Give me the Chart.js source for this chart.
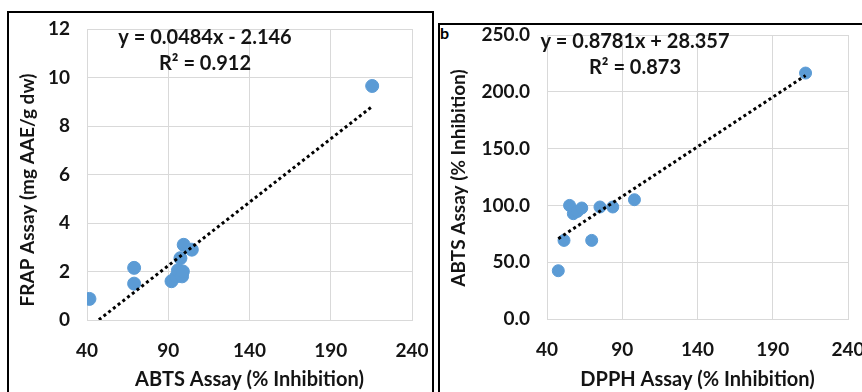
<!DOCTYPE html>
<html>
<head>
<meta charset="utf-8">
<script src="https://cdn.jsdelivr.net/npm/chart.js@4.4.1/dist/chart.umd.min.js"></script>
<style>
    body { margin: 0; background: #fff; width: 862px; height: 392px; overflow: hidden; position: relative; }
    .panel { position: absolute; border: 2px solid #000; box-sizing: border-box; }
    canvas { position: absolute; }
    #tag { position: absolute; left: 440px; top: 23px; font: bold 16px Lato, sans-serif; color: #000; }
</style>
</head>
<body>
<div class="panel" style="left:7px; top:11px; width:427px; height:420px;"></div>
<div class="panel" style="left:438px; top:23px; width:440px; height:420px;"></div>
<div id="tag">b</div>
<canvas id="graphCanvas1" width="436" height="392" style="left:0; top:0;"></canvas>
<canvas id="graphCanvas2" width="445" height="392" style="left:437px; top:0;"></canvas>
<script>
// panel a: ABTS vs FRAP
var abtsA = [41.5, 69, 69, 92, 95, 96, 97.5, 98.5, 99, 99.5, 104.5, 215.5];
var frapA = [0.87, 2.15, 1.5, 1.6, 1.8, 2.05, 2.55, 1.8, 2.0, 3.1, 2.9, 9.65];
var eqA = ['y = 0.0484x - 2.146', 'R\u00b2 = 0.912'];

// panel b: DPPH vs ABTS
var dpphB = [47.5, 51.3, 55, 57.5, 60.2, 63.1, 69.7, 75.2, 83.7, 98.1, 211.8];
var abtsB = [42.5, 69.2, 100, 92.7, 94.7, 97.7, 69.2, 98.6, 98.6, 105, 216.5];
var eqB = ['y = 0.8781x + 28.357', 'R\u00b2 = 0.873'];

var xTicks = [40, 90, 140, 190, 240];

var FONT = 'Lato, sans-serif';
var BLUE = '#5b9bd5';
var GRID = '#d9d9d9';
var TXT = '#141414';

function points(xs, ys) {
    var out = [];
    for (var i in xs) {
        out.push({x: xs[i], y: ys[i]});
    }
    return out;
}

// least squares line over the data range, like the Excel trendline
function trend(xs, ys) {
    var n = xs.length, sx = 0, sy = 0, sxx = 0, sxy = 0;
    for (var i = 0; i < n; i++) {
        sx += xs[i]; sy += ys[i];
        sxx += xs[i] * xs[i]; sxy += xs[i] * ys[i];
    }
    var b = (n * sxy - sx * sy) / (n * sxx - sx * sx);
    var a = (sy - b * sx) / n;
    var x0 = Math.min.apply(null, xs), x1 = Math.max.apply(null, xs);
    return [{x: x0, y: a + b * x0}, {x: x1, y: a + b * x1}];
}

// equation text and rotated y title
var textPlugin = {
    id: 'extraText',
    afterDraw: function (chart, args, opts) {
        var ctx = chart.ctx;
        ctx.save();
        ctx.fillStyle = TXT;
        ctx.textAlign = 'center';
        ctx.textBaseline = 'middle';
        ctx.font = 'bold 20px ' + FONT;
        ctx.fillText(opts.eq[0], opts.eqX, opts.eqY);
        ctx.fillText(opts.eq[1], opts.eqX, opts.eqY + 26);
        ctx.font = 'bold 19px ' + FONT;
        ctx.translate(opts.titleX, opts.titleY);
        ctx.rotate(-Math.PI / 2);
        ctx.fillText(opts.yTitle, 0, 0);
        ctx.restore();
    }
};

function makeChart(id, xs, ys, cfg) {
    var target = document.getElementById(id);
    return new Chart(target, {
        type: 'scatter',
        data: {
            datasets: [
                {
                    label: 'trend',
                    type: 'line',
                    data: trend(xs, ys),
                    borderColor: '#000',
                    borderWidth: 3,
                    borderDash: [3, 3],
                    pointRadius: 0,
                    fill: false,
                    order: 0
                },
                {
                    label: 'samples',
                    data: points(xs, ys),
                    backgroundColor: BLUE,
                    borderColor: BLUE,
                    pointRadius: cfg.radius,
                    pointHoverRadius: cfg.radius,
                    order: 1
                }
            ]
        },
        options: {
            responsive: false,
            animation: false,
            devicePixelRatio: 1,
            layout: { padding: cfg.padding },
            plugins: {
                legend: { display: false },
                tooltip: { enabled: false },
                extraText: cfg.text
            },
            scales: {
                x: {
                    type: 'linear',
                    min: 40, max: 240,
                    afterBuildTicks: function (s) { s.ticks = xTicks.map(function (v) { return {value: v}; }); },
                    afterFit: function (s) {
                        s.height = cfg.xHeight;
                        s.paddingLeft = 0;
                        s.paddingRight = 0;
                    },
                    grid: { color: GRID, drawTicks: false },
                    border: { color: GRID },
                    ticks: { color: TXT, padding: 19, font: { family: FONT, size: 19, weight: 'bold' } },
                    title: {
                        display: true, text: cfg.xTitle, color: TXT,
                        padding: { top: 0, bottom: 0 },
                        font: { family: FONT, size: 20, weight: 'bold' }
                    }
                },
                y: {
                    min: cfg.yMin, max: cfg.yMax,
                    ticks: {
                        stepSize: cfg.yStep, color: TXT, padding: 17,
                        font: { family: FONT, size: 19, weight: 'bold' },
                        callback: cfg.yFmt
                    },
                    afterFit: function (s) {
                        s.width = cfg.yWidth;
                        s.paddingTop = 0;
                        s.paddingBottom = 0;
                    },
                    grid: { color: GRID, drawTicks: false },
                    border: { color: GRID }
                }
            }
        },
        plugins: [textPlugin]
    });
}

makeChart('graphCanvas1', abtsA, frapA, {
    radius: 6.5,
    padding: { left: 0, top: 29, right: 24, bottom: 0 },
    xHeight: 72, yWidth: 87,
    yMin: 0, yMax: 12, yStep: 2,
    yFmt: function (v) { return v; },
    xTitle: 'ABTS Assay (% Inhibition)',
    text: { eq: eqA, eqX: 205, eqY: 38, yTitle: 'FRAP Assay (mg AAE/g dw)', titleX: 28, titleY: 190 }
});

makeChart('graphCanvas2', dpphB, abtsB, {
    radius: 6,
    padding: { left: 0, top: 35, right: 34, bottom: 0 },
    xHeight: 73, yWidth: 110,
    yMin: 0, yMax: 250, yStep: 50,
    yFmt: function (v) { return v.toFixed(1); },
    xTitle: 'DPPH Assay (% Inhibition)',
    text: { eq: eqB, eqX: 198, eqY: 42, yTitle: 'ABTS Assay (% Inhibition)', titleX: 22, titleY: 178 }
});
</script>
</body>
</html>
